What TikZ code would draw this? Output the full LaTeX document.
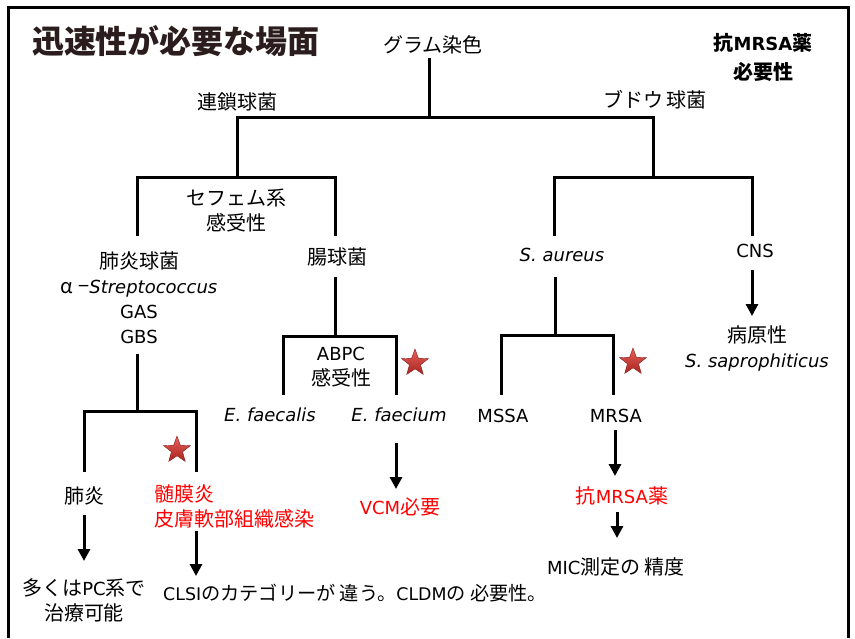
\documentclass[tikz,border=0pt]{standalone}
\usepackage{fontspec}
\setmainfont{DejaVu Sans}
\newfontfamily\jp{Noto Sans CJK JP}
\newfontfamily\latf{DejaVu Sans}
\usetikzlibrary{arrows.meta,shapes.geometric}
\newcommand\lat[1]{{\latf\fontsize{18}{25}\selectfont #1}}
\newcommand\latsm[1]{{\latf\fontsize{17.4}{25}\selectfont #1}}
\definecolor{ttl}{HTML}{2B1D1D}
\definecolor{starhi}{HTML}{E8605A}
\definecolor{starlo}{HTML}{A82420}
\begin{document}
\begin{tikzpicture}[x=1pt,y=-1pt,
  lbl/.style={inner sep=0pt, font=\jp\fontsize{20}{25}\selectfont, align=center},
  redlbl/.style={lbl, text=red},
  tree/.style={line width=3pt},
  arr/.style={line width=3pt, -{Triangle[width=12pt,length=12pt]}},
  starmark/.style={star, star points=5, star point ratio=2.4, minimum size=28pt, inner sep=0pt,
    draw=starlo!80!black, line width=0.4pt, top color=starhi, bottom color=starlo}]
\useasboundingbox (0,0) rectangle (855,638);
% frame
\draw[line width=3pt] (8,638) -- (8,7) -- (848,7) -- (848,638);
% title
\node[lbl, font=\jp\bfseries\fontsize{32}{36}\selectfont, text=ttl] (title) at (176,41) {迅速性が必要な場面};
% labels
\node[lbl] (gram) at (433,45) {グラム染色};
\node[lbl, font=\jp\bfseries\fontsize{20}{29}\selectfont] (need) at (763,57) {抗\lat{\bfseries MRSA}薬\\必要性};
\node[lbl] (strep) at (237,102) {連鎖球菌};
\node[lbl] (staph) at (655,100) {ブドウ\hspace{3pt}球菌};
\node[lbl] (ceph) at (236,211) {セフェム系\\感受性};
\node[lbl] (pneumo) at (139,298) {肺炎球菌\\α\hspace{5pt}−\lat{\itshape Streptococcus}\\\lat{GAS}\\\lat{GBS}};
\node[lbl] (entero) at (337,257) {腸球菌};
\node[lbl] (abpc) at (341,367) {\lat{ABPC}\\感受性};
\node[lbl] (faecalis) at (270,415) {\lat{\itshape E. faecalis}};
\node[lbl] (faecium) at (399,415) {\lat{\itshape E. faecium}};
\node[lbl] (saureus) at (562,255) {\lat{\itshape S. aureus}};
\node[lbl] (cns) at (755,251) {\lat{CNS}};
\node[lbl] (patho) at (757,348) {病原性\\\lat{\itshape S. saprophiticus}};
\node[lbl] (mssa) at (503,416) {\lat{MSSA}};
\node[lbl] (mrsa) at (616,416) {\lat{MRSA}};
\node[lbl] (pneumonia) at (84,496) {肺炎};
\node[redlbl, align=left, anchor=west] (mening) at (154,506) {髄膜炎\\皮膚軟部組織感染};
\node[lbl] (pc) at (84,600) {多くは\lat{PC}系で\\治療可能};
\node[lbl, anchor=west, font=\jp\fontsize{19.2}{25}\selectfont] (clsi) at (163,593) {\latsm{CLSI}のカテゴリーが 違う。\latsm{CLDM}の 必要性。};
\node[redlbl] (vcm) at (400,507) {\lat{VCM}必要};
\node[redlbl] (antimrsa) at (622,496) {抗\lat{MRSA}薬};
\node[lbl] (mic) at (616,567) {\lat{MIC}測定の 精度};
% stars
\node[starmark] (star1) at (177,450) {};
\node[starmark] (star2) at (415,363) {};
\node[starmark] (star3) at (633,362) {};
% tree coordinates
\coordinate (g0) at (429,58);
\coordinate (g1) at (429,117);
\coordinate (sL) at (237,177);
\coordinate (sR) at (653,177);
\coordinate (l0) at (137,236);
\coordinate (l1) at (335,236);
\coordinate (p0) at (137,354);
\coordinate (p1) at (137,411);
\coordinate (pa) at (84,472);
\coordinate (pb) at (196,472);
\coordinate (e0) at (335,277);
\coordinate (e1) at (335,336);
\coordinate (ea) at (283,395);
\coordinate (eb) at (396,395);
\coordinate (r0) at (554,236);
\coordinate (r1) at (752,236);
\coordinate (a0) at (555,277);
\coordinate (a1) at (555,335);
\coordinate (ma) at (501,395);
\coordinate (mb) at (613,395);
% tree
\draw[tree] (g0) -- (g1);
\draw[tree] (sL) -- (sL |- g1) -- (sR |- g1) -- (sR);
\draw[tree] (l0) -- (l0 |- sL) -- (l1 |- sL) -- (l1);
\draw[tree] (p0) -- (p1);
\draw[tree] (pa) -- (pa |- p1) -- (pb |- p1) -- (pb);
\draw[tree] (e0) -- (e1);
\draw[tree] (ea) -- (ea |- e1) -- (eb |- e1) -- (eb);
\draw[tree] (r0) -- (r0 |- sR) -- (r1 |- sR) -- (r1);
\draw[tree] (a0) -- (a1);
\draw[tree] (ma) -- (ma |- a1) -- (mb |- a1) -- (mb);
% arrows
\coordinate (ar1s) at (84,515);   \coordinate (ar1e) at (84,561);
\coordinate (ar2s) at (196,531);  \coordinate (ar2e) at (196,576);
\coordinate (ar3s) at (396,443);  \coordinate (ar3e) at (396,489);
\coordinate (ar4s) at (752,270);  \coordinate (ar4e) at (752,316);
\coordinate (ar5s) at (615,430);  \coordinate (ar5e) at (615,476);
\coordinate (ar6s) at (617,512);  \coordinate (ar6e) at (617,538);
\draw[arr] (ar1s) -- (ar1e);
\draw[arr] (ar2s) -- (ar2e);
\draw[arr] (ar3s) -- (ar3e);
\draw[arr] (ar4s) -- (ar4e);
\draw[arr] (ar5s) -- (ar5e);
\draw[arr] (ar6s) -- (ar6e);
\end{tikzpicture}
\end{document}
